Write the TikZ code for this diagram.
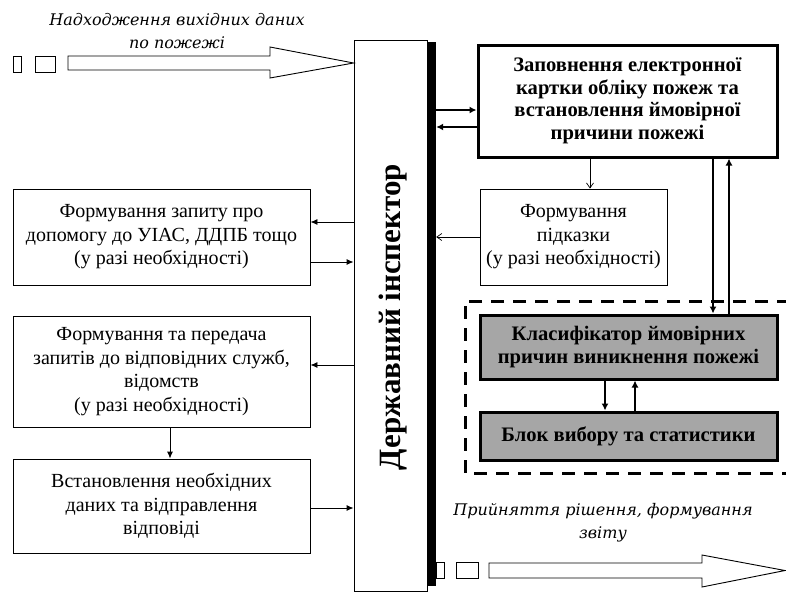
\documentclass[tikz,border=0pt]{standalone}
\usepackage{fontspec}
\setmainfont{Liberation Serif}
\newfontfamily\itfont{DejaVu Serif}
\usetikzlibrary{arrows.meta,calc}
\definecolor{boxgray}{RGB}{166,166,166}
\begin{document}
\begin{tikzpicture}[x=1pt,y=-1pt,
  box/.style={draw,line width=0.9pt,rectangle,inner sep=0pt,align=center,
    font=\fontsize{20}{23.5}\selectfont},
  bbox/.style={draw,line width=3pt,rectangle,inner sep=0pt,align=center,
    font=\bfseries\fontsize{20.6}{22.5}\selectfont},
  gbox/.style={bbox,fill=boxgray},
  arr/.style={line width=0.9pt,-{Latex[length=7pt,width=6pt]}},
  tarr/.style={line width=2.2pt,-{Latex[length=7pt,width=7pt]}},
  barb/.style={line width=0.7pt,-{Straight Barb[length=5pt,width=7pt]}},
  hollow/.style={draw,line width=0.9pt,fill=white},
  lbl/.style={font=\itfont\itshape\fontsize{16}{23}\selectfont,align=center,inner sep=0pt}
]
\useasboundingbox (0,0) rectangle (786,595);

% inspector
\node[draw,line width=0.9pt,minimum width=73pt,minimum height=551pt,inner sep=0pt] (insp) at (390.5,315.5) {};
\node[rotate=90,font=\bfseries\fontsize{31}{34}\selectfont] (insptxt) at (393,317) {Державний інспектор};
\node[fill=black,minimum width=9pt,minimum height=544pt,inner sep=0pt] (bar) at (431.5,314) {};

% left boxes
\node[box,minimum width=297pt,minimum height=96pt] (b1) at (161.5,237)
  {Формування запиту про\\допомогу до УІАС, ДДПБ тощо\\(у разі необхідності)};
\node[box,minimum width=297pt,minimum height=111pt] (b2) at (161.5,371.5)
  {Формування та передача\\запитів до відповідних служб,\\відомств\\(у разі необхідності)};
\node[box,minimum width=297pt,minimum height=94pt] (b3) at (161.5,506)
  {Встановлення необхідних\\даних та відправлення\\відповіді};

% right boxes
\node[bbox,minimum width=299pt,minimum height=112pt] (top) at (627.5,101)
  {Заповнення електронної\\картки обліку пожеж та\\встановлення ймовірної\\причини пожежі};
\node[box,minimum width=187pt,minimum height=96pt] (hint) at (573.5,237)
  {Формування\\підказки\\(у разі необхідності)};
\draw[line width=3pt,dash pattern=on 13pt off 9pt] (790,301) -- (465,301) -- (465,473) -- (790,473);
\node[gbox,minimum width=297pt,minimum height=64pt] (cls) at (628.5,347)
  {Класифікатор ймовірних\\причин виникнення пожежі};
\node[gbox,minimum width=297pt,minimum height=48pt] (blk) at (628.5,436)
  {Блок вибору та статистики};

% connectors
\draw[arr] (insp.west |- 0,222) -- (b1.east |- 0,222);
\draw[arr] (b1.east |- 0,262) -- (insp.west |- 0,262);
\draw[arr] (insp.west |- 0,365) -- (b2.east |- 0,365);
\draw[arr] (b2.south -| 170,0) -- (b3.north -| 170,0);
\draw[arr] (b3.east |- 0,508) -- (insp.west |- 0,508);

\draw[tarr] (bar.east |- 0,110) -- (top.west |- 0,110);
\draw[tarr] (top.west |- 0,127) -- (bar.east |- 0,127);
\draw[barb] (top.south -| 590,0) -- (hint.north -| 590,0);
\draw[barb] (hint.west |- 0,237) -- (bar.east |- 0,237);
\draw[tarr] (top.south -| 713,0) -- (cls.north -| 713,0);
\draw[tarr] (cls.north -| 729,0) -- (top.south -| 729,0);
\draw[tarr] (cls.south -| 605,0) -- (blk.north -| 605,0);
\draw[tarr] (blk.north -| 635,0) -- (cls.south -| 635,0);

% input arrow
\draw[hollow] (13,56) rectangle (21,72);
\draw[hollow] (35,56) rectangle (55,72);
\draw[hollow] (68,56) -- (270,56) -- (270,47) -- (insp.west |- 0,63) -- (270,78) -- (270,70) -- (68,70) -- cycle;
\node[lbl] (inlbl) at (177,31) {Надходження вихідних даних\\по пожежі};

% output arrow
\draw[hollow] (436,562) rectangle (444,578);
\draw[hollow] (456,562) rectangle (478,578);
\draw[hollow] (489,563) -- (702,563) -- (702,555) -- (785,570.5) -- (702,587) -- (702,578) -- (489,578) -- cycle;
\node[lbl] (outlbl) at (603,523) {Прийняття рішення, формування\\звіту};
\end{tikzpicture}
\end{document}
